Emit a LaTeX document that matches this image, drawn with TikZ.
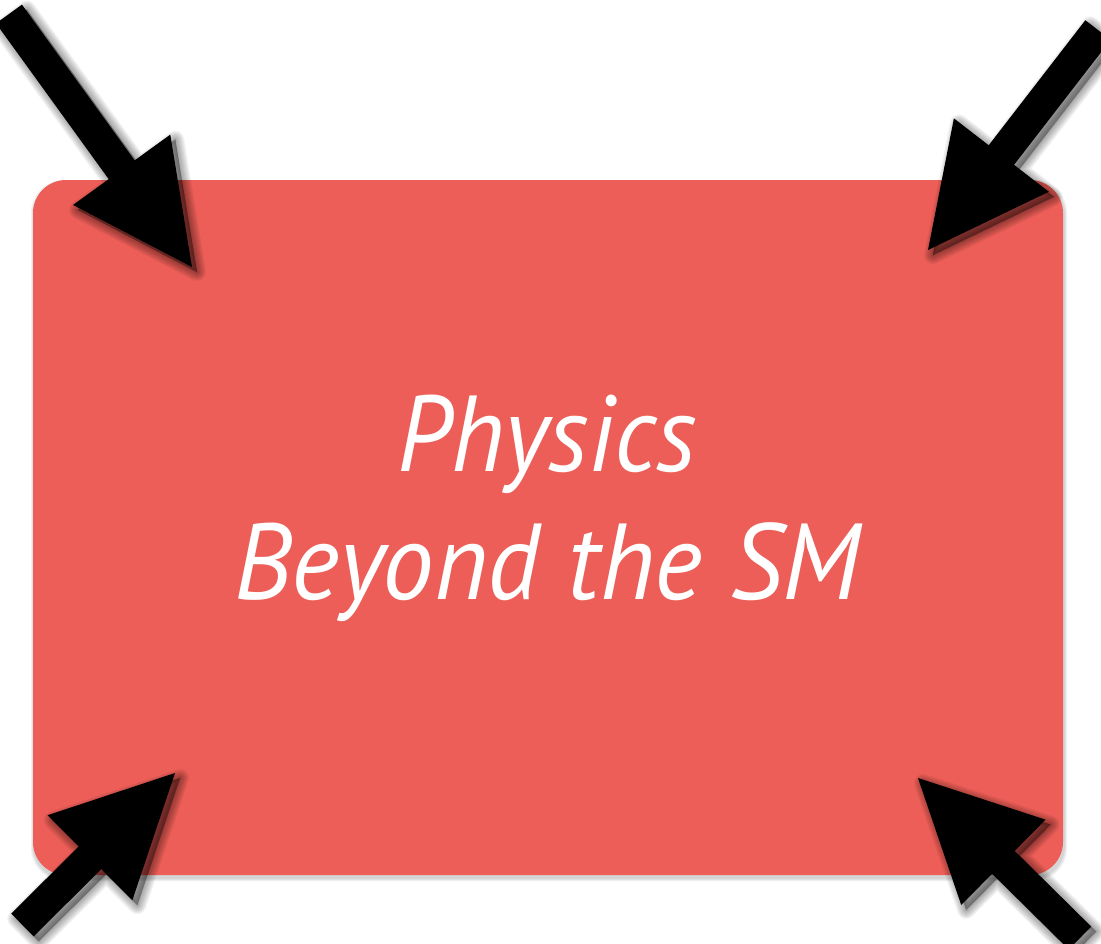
\documentclass[tikz,border=0pt]{standalone}
\usepackage{fontspec}
\usepackage{graphicx}
\newfontfamily\labelfont{PT Sans}
\usetikzlibrary{calc}
\definecolor{boxred}{RGB}{236,94,87}
\tikzset{
  bsmbox/.style={fill=boxred, rounded corners=33pt, minimum width=1030pt, minimum height=695pt, inner sep=0pt, draw=none},
  bsmlabel/.style={text=white, font=\labelfont\itshape\fontsize{108}{128}\selectfont, inner sep=0pt, anchor=base},
  arrowbody/.style={fill=black, draw=none},
  arrowshade/.style={fill=black, draw=black, opacity=0.045, line join=round}
}
\newcommand\arrowoutline[2]{%
  ($(#1)!16pt!90:(#2)$) -- ($(#2b)!16pt!90:(#2)$) -- ($(#2b)!60pt!90:(#2)$) -- (#2) --
  ($(#2b)!60pt!-90:(#2)$) -- ($(#2b)!16pt!-90:(#2)$) -- ($(#1)!16pt!-90:(#2)$) -- cycle}
\newcommand\bigarrow[2]{%
  \coordinate (#2b) at ($(#2)!120pt!(#1)$);
  \begin{scope}[transform canvas={shift={(5pt,-5pt)}}]
    \foreach \w in {18,16,14,12,10,8,6,4,2,0}{
      \path[arrowshade, line width=\w pt] \arrowoutline{#1}{#2};
    }
  \end{scope}
  \path[arrowbody] \arrowoutline{#1}{#2};
}
\begin{document}
\begin{tikzpicture}[x=1pt,y=-1pt]
\useasboundingbox (0,0) rectangle (1101,943);
% box shadow
\begin{scope}[transform canvas={shift={(1pt,-3pt)}}]
  \foreach \w in {6,4,2}{
    \fill[black, opacity=0.06, rounded corners=33pt] (33-\w/2,180-\w/2) rectangle (1063+\w/2,875+\w/2);
  }
\end{scope}
\node[bsmbox] (bsm) at (548,527.5) {};
\node[bsmlabel] (line1) at (547,471) {\scalebox{0.93}[1]{Physics}};
\node[bsmlabel] (line2) at (547,599) {\scalebox{0.955}[1]{Beyond the SM}};
% arrows
\coordinate (tlt) at (9,14);     \coordinate (tlp) at (192,267);
\coordinate (trt) at (1098,30);  \coordinate (trp) at (928,250);
\coordinate (blt) at (22.5,925); \coordinate (blp) at (175,773);
\coordinate (brt) at (1080,938); \coordinate (brp) at (918,778);
\bigarrow{tlt}{tlp}
\bigarrow{trt}{trp}
\bigarrow{blt}{blp}
\bigarrow{brt}{brp}
\end{tikzpicture}
\end{document}
